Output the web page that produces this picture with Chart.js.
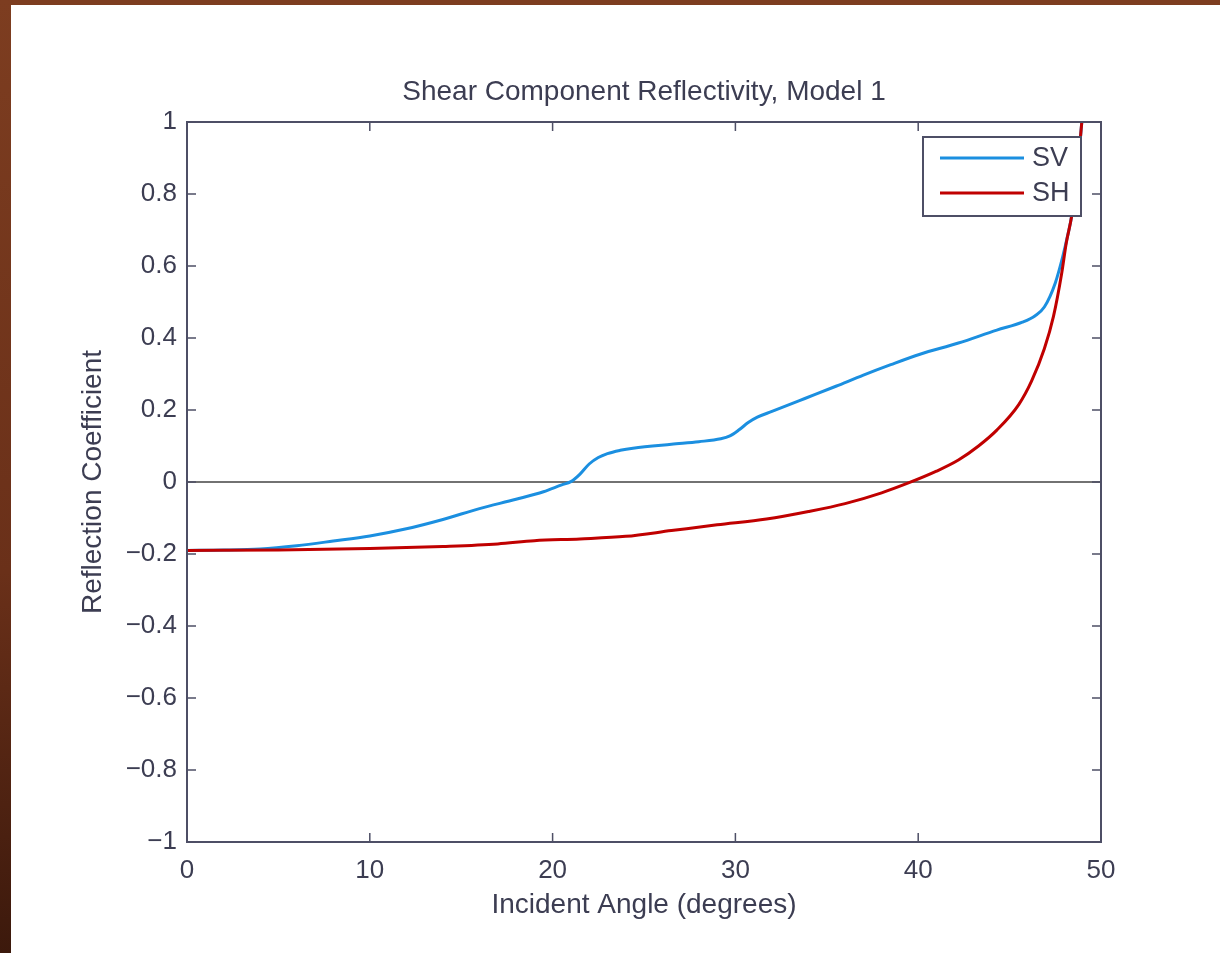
<!DOCTYPE html>
<html>
<head>
<meta charset="utf-8">
<title>Shear Component Reflectivity, Model 1</title>
<script src="https://cdn.jsdelivr.net/npm/chart.js@4.4.1/dist/chart.umd.min.js"></script>
<style>
    body { margin: 0; background: #fff; overflow: hidden; }
    #wrap { position: relative; width: 1220px; height: 953px; }
    #chart { position: absolute; left: 0; top: 0; }
    .edge-top { position: absolute; left: 0; top: 0; width: 1220px; height: 5px; background: #7d3d20; }
    .edge-left { position: absolute; left: 0; top: 0; width: 11px; height: 953px;
                 background: linear-gradient(#7d3d20, #6a3019 60%, #3c190c); }
</style>
</head>
<body>
<div id="wrap">
    <canvas id="chart" width="1220" height="953"></canvas>
    <div class="edge-top"></div>
    <div class="edge-left"></div>
</div>
<script>
// Values
const svAngles = [0, 2, 4, 6, 8, 10, 12, 14, 16, 18, 19.5, 20.5, 21, 21.5, 22, 22.5, 23, 23.7, 24.4, 26.5, 28, 29.2,
                  29.7, 30.2, 30.7, 31.2, 32, 33.8, 35.5, 37, 38.5, 40.1, 42.2, 44.3, 45.7, 46.4, 46.9,
                  47.5, 47.9, 48.2, 48.4, 48.7, 48.95];
const svValues = [-0.190, -0.189, -0.186, -0.177, -0.164, -0.150, -0.130, -0.104, -0.074, -0.048, -0.027, -0.008, 0.001,
                  0.022, 0.050, 0.068, 0.079, 0.088, 0.094, 0.105, 0.112, 0.120, 0.128, 0.145, 0.165, 0.180, 0.196,
                  0.232, 0.266, 0.297, 0.326, 0.355, 0.386, 0.422, 0.444, 0.462, 0.486, 0.553, 0.625, 0.690, 0.740,
                  0.860, 1.0];

const shAngles = [0, 5, 10, 14, 17, 19, 21.5, 24, 26.5, 29, 31.7, 34, 36, 38, 39.5, 41, 42.2, 43.3, 44.3,
                  45.5, 46.2, 46.9, 47.4, 47.85, 48.1, 48.4, 48.7, 48.95];
const shValues = [-0.190, -0.189, -0.185, -0.179, -0.172, -0.163, -0.158, -0.151, -0.135, -0.119, -0.103, -0.082,
                  -0.060, -0.030, -0.002, 0.030, 0.061, 0.100, 0.144, 0.215, 0.280, 0.370, 0.460, 0.580, 0.664,
                  0.740, 0.860, 1.0];

// horizontal reference line at zero
const zeroAngles = [0, 50];
const zeroValues = [0, 0];

const xTicks = [0, 10, 20, 30, 40, 50];
const yTicks = [-1, -0.8, -0.6, -0.4, -0.2, 0, 0.2, 0.4, 0.6, 0.8, 1];

const inkColor = '#3c3d52';
const frameColor = '#4e4f66';
const fontFamily = '"Liberation Sans", Arial, Helvetica, sans-serif';

function toPoints(xs, ys) {
    return xs.map((x, i) => ({ x: x, y: ys[i] }));
}

function formatTick(value) {
    const v = Math.round(value * 10) / 10;
    if (v === 0) return '0';
    return (v < 0 ? '\u2212' : '') + Math.abs(v).toString();
}

// frame, inward ticks, title and boxed legend, MATLAB style
const matlabFrame = {
    id: 'matlabFrame',
    afterDraw(chart) {
        const ctx = chart.ctx;
        const area = chart.chartArea;
        const xs = chart.scales.x;
        const ys = chart.scales.y;
        const tick = 9;

        ctx.save();
        ctx.strokeStyle = frameColor;
        ctx.lineWidth = 2;
        ctx.strokeRect(area.left, area.top, area.right - area.left, area.bottom - area.top);

        ctx.lineWidth = 1.5;
        ctx.beginPath();
        xTicks.forEach(v => {
            const px = xs.getPixelForValue(v);
            ctx.moveTo(px, area.bottom); ctx.lineTo(px, area.bottom - tick);
            ctx.moveTo(px, area.top); ctx.lineTo(px, area.top + tick);
        });
        yTicks.forEach(v => {
            const py = ys.getPixelForValue(v);
            ctx.moveTo(area.left, py); ctx.lineTo(area.left + tick, py);
            ctx.moveTo(area.right, py); ctx.lineTo(area.right - tick, py);
        });
        ctx.stroke();

        // title
        ctx.fillStyle = inkColor;
        ctx.font = '28px ' + fontFamily;
        ctx.textAlign = 'center';
        ctx.textBaseline = 'middle';
        ctx.fillText('Shear Component Reflectivity, Model 1', (area.left + area.right) / 2, 92);

        // legend box
        const box = { left: 923, top: 137, width: 158, height: 79 };
        ctx.fillStyle = '#ffffff';
        ctx.fillRect(box.left, box.top, box.width, box.height);
        ctx.strokeStyle = frameColor;
        ctx.lineWidth = 2;
        ctx.strokeRect(box.left, box.top, box.width, box.height);

        const entries = chart.data.datasets.filter(d => d.label);
        entries.forEach((d, i) => {
            const y = 158 + i * 35;
            ctx.strokeStyle = d.borderColor;
            ctx.lineWidth = 3;
            ctx.beginPath();
            ctx.moveTo(940, y);
            ctx.lineTo(1024, y);
            ctx.stroke();
            ctx.fillStyle = inkColor;
            ctx.font = '27px ' + fontFamily;
            ctx.textAlign = 'left';
            ctx.textBaseline = 'middle';
            ctx.fillText(d.label, 1032, y + 1);
        });
        ctx.restore();
    }
};

const ctx = document.getElementById('chart').getContext('2d');
const reflectivityChart = new Chart(ctx, {
    type: 'line',
    data: {
        datasets: [
            {
                label: 'SV',
                data: toPoints(svAngles, svValues),
                borderColor: '#1b8fe0',
                borderWidth: 3,
                pointRadius: 0,
                fill: false,
                cubicInterpolationMode: 'monotone',
                order: 2
            },
            {
                label: 'SH',
                data: toPoints(shAngles, shValues),
                borderColor: '#c00000',
                borderWidth: 3,
                pointRadius: 0,
                fill: false,
                cubicInterpolationMode: 'monotone',
                order: 1
            },
            {
                label: '',
                data: toPoints(zeroAngles, zeroValues),
                borderColor: '#727272',
                borderWidth: 2,
                pointRadius: 0,
                fill: false,
                order: 3
            }
        ]
    },
    options: {
        responsive: false,
        animation: false,
        layout: {
            padding: { top: 122, right: 119, left: 0, bottom: 0 }
        },
        plugins: {
            legend: { display: false },
            title: { display: false },
            tooltip: { enabled: false }
        },
        scales: {
            x: {
                type: 'linear',
                min: 0,
                max: 50,
                afterFit: function(scale) { scale.height = 111; },
                afterBuildTicks: function(scale) {
                    scale.ticks = xTicks.map(v => ({ value: v }));
                },
                grid: { display: false, drawTicks: false },
                border: { display: false },
                ticks: {
                    color: inkColor,
                    font: { family: fontFamily, size: 26 },
                    padding: 13,
                    maxRotation: 0,
                    autoSkip: false
                },
                title: {
                    display: true,
                    text: 'Incident Angle (degrees)',
                    color: inkColor,
                    font: { family: fontFamily, size: 28 },
                    padding: { top: 0, bottom: 31 }
                }
            },
            y: {
                type: 'linear',
                min: -1,
                max: 1,
                afterFit: function(scale) { scale.width = 187; },
                afterBuildTicks: function(scale) {
                    scale.ticks = yTicks.map(v => ({ value: v }));
                },
                grid: { display: false, drawTicks: false },
                border: { display: false },
                ticks: {
                    color: inkColor,
                    font: { family: fontFamily, size: 26 },
                    padding: 10,
                    autoSkip: false,
                    callback: formatTick
                },
                title: {
                    display: true,
                    text: 'Reflection Coefficient',
                    color: inkColor,
                    font: { family: fontFamily, size: 28 },
                    padding: { top: 76, bottom: 0 }
                }
            }
        }
    },
    plugins: [matlabFrame]
});
</script>
</body>
</html>
